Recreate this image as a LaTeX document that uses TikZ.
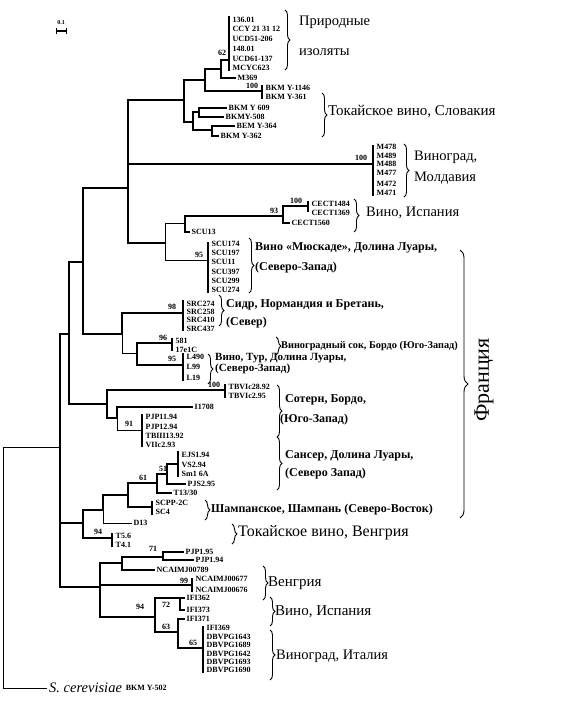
\documentclass[tikz,border=0pt]{standalone}
\usepackage{fontspec}
\setmainfont{Liberation Serif}
\usetikzlibrary{decorations.pathreplacing}
\newcommand\leafbar[4]{\coordinate (#1t) at (#2,#3);\coordinate (#1b) at (#2,#4);\draw[barline] (#1t) -- (#1b);}
\begin{document}
\begin{tikzpicture}[x=1pt,y=-1pt,
  br/.style={line width=2pt},
  tn/.style={line width=1pt},
  lf/.style={line width=1.2pt},
  barline/.style={line width=1.8pt},
  lab/.style={anchor=west,inner xsep=1.5pt,inner ysep=0pt,font=\fontsize{8}{9}\selectfont\bfseries},
  bs/.style={inner sep=0pt,font=\fontsize{8}{9}\selectfont\bfseries},
  grp/.style={anchor=west,inner sep=0pt,font=\fontsize{14.5}{16}\selectfont},
  grpb/.style={anchor=west,inner sep=0pt,font=\fontsize{12}{14}\selectfont\bfseries},
  grps/.style={anchor=west,inner sep=0pt,font=\fontsize{11}{13}\selectfont\bfseries},
  brc/.style={decorate,decoration={brace,amplitude=5pt},line width=0.9pt}]
\useasboundingbox (0,0) rectangle (573,707);

% scale bar
\coordinate (sbl) at (56,31); \coordinate (sbr) at (66,31);
\draw[line width=1.6pt] (sbl) -- (sbr);
\draw[line width=1pt] (56,28) -- (56,34) (66,28) -- (66,34);
\node[bs,font=\fontsize{6}{7}\selectfont\bfseries] (sbt) at (61,23) {0.1};

% root
\coordinate (rt) at (3,447);
\coordinate (N1) at (60,447);
\node[anchor=west,inner xsep=2pt,inner ysep=0pt,font=\fontsize{14.5}{16}\selectfont\itshape] (sc) at (47,688) {S. cerevisiae};
\node[lab] (scb) at (sc.east) {BKM Y-502};
\draw[tn] (rt) -- (N1);
\draw[tn] (rt) |- (sc.west);

% level 1
\coordinate (N2) at (69,334);
\coordinate (T) at (83,523);
\coordinate (G) at (100,587);
\draw[br] (N1) |- (N2); \draw[br] (N1) |- (T); \draw[br] (N1) |- (G);

\coordinate (M) at (83,262); \coordinate (S) at (107,404);
\draw[br] (N2) |- (M); \draw[br] (N2) |- (S);

\coordinate (X) at (128,188); \coordinate (K) at (122,334);
\draw[br] (M) |- (X); \draw[br] (M) |- (K);

% X clade
\coordinate (Tn) at (184,100);
\coordinate (Mol) at (373,164);
\coordinate (C) at (165,243);
\draw[br] (X) |- (Tn); \draw[br] (X) |- (Mol); \draw[br] (X) |- (C);
\leafbar{molbar}{373}{145}{196}

\coordinate (n205) at (205,80); \coordinate (n193) at (193,122);
\draw[br] (Tn) |- (n205); \draw[br] (Tn) |- (n193);
\coordinate (n221) at (221,69); \coordinate (Bb) at (262,91);
\draw[br] (n205) |- (n221); \draw[lf] (n205) |- (Bb);
\leafbar{bbar}{262}{85}{99}
\coordinate (Ab) at (229,60);
\draw[br] (n221) |- (Ab);
\leafbar{abar}{229}{16}{71}
\node[lab] (m369) at (236,78) {M369}; \draw[lf] (n221) |- (m369.west);

\coordinate (n199) at (199,112); \coordinate (n212) at (212,130);
\draw[br] (n193) |- (n199); \draw[br] (n193) |- (n212);
\node[lab] (l609) at (227,108) {BKM Y 609}; \draw[br] (n199) |- (l609.west);
\node[lab] (l508) at (224,117) {BKMY-508}; \draw[br] (n199) |- (l508.west);
\node[lab] (l364) at (235,126) {BEM Y-364}; \draw[br] (n212) |- (l364.west);
\node[lab] (l362) at (219,136) {BKM Y-362}; \draw[br] (n212) |- (l362.west);

\coordinate (c185) at (185,223); \coordinate (SCUb) at (208,260);
\draw[tn] (C) |- (c185); \draw[tn] (C) |- (SCUb);
\leafbar{scubar}{208}{242}{293}
\coordinate (c283) at (283,216);
\draw[br] (c185) |- (c283);
\node[lab] (scu13) at (190,232) {SCU13}; \draw[lf] (c185) |- (scu13.west);
\coordinate (CEb) at (308,206);
\draw[br] (c283) |- (CEb);
\leafbar{cebar}{308}{201}{212}
\node[lab] (ce1560) at (290,223) {CECT1560}; \draw[br] (c283) |- (ce1560.west);

% K clade
\coordinate (SRCb) at (183,313); \coordinate (k137) at (137,353);
\draw[br] (K) |- (SRCb); \draw[tn] (K) |- (k137);
\leafbar{srcbar}{183}{300}{331}
\coordinate (b581) at (172,343); \coordinate (Lb) at (183,365);
\draw[br] (k137) |- (b581); \draw[br] (k137) |- (Lb);
\leafbar{fbar}{172}{338}{351}
\leafbar{lbar}{183}{353}{381}

% S clade
\coordinate (TBVb) at (225,390); \coordinate (s117) at (117,418);
\draw[br] (S) |- (TBVb); \draw[br] (S) |- (s117);
\leafbar{tbvbar}{225}{384}{398}
\node[lab] (li708) at (193,407) {I1708}; \draw[br] (s117) |- (li708.west);
\coordinate (PJb) at (142,430); \draw[tn] (s117) |- (PJb);
\leafbar{pjbar}{142}{414}{447}

% T clade
\coordinate (U) at (103,510); \coordinate (Tb) at (112,538);
\draw[br] (T) |- (U); \draw[br] (T) |- (Tb);
\leafbar{tbar}{112}{533}{547}
\coordinate (V) at (128,495); \draw[br] (U) |- (V);
\node[lab] (d13) at (132,523) {D13}; \draw[tn] (U) |- (d13.west);
\coordinate (W) at (157,483); \coordinate (SCb) at (152,507);
\draw[br] (V) |- (W); \draw[br] (V) |- (SCb);
\leafbar{scbar}{152}{501}{515}
\coordinate (X2) at (167,474); \draw[br] (W) |- (X2);
\node[lab] (t1330) at (172,493) {T13/30}; \draw[br] (W) |- (t1330.west);
\coordinate (EJb) at (178,464); \draw[br] (X2) |- (EJb);
\leafbar{ejbar}{178}{451}{477}
\node[lab] (pjs) at (186,484) {PJS2.95}; \draw[br] (X2) |- (pjs.west);

% G clade
\coordinate (g122) at (122,563); \coordinate (NCb) at (192,585); \coordinate (P) at (155,617);
\draw[br] (G) |- (g122); \draw[br] (G) |- (NCb); \draw[br] (G) |- (P);
\leafbar{ncbar}{192}{578}{592}
\coordinate (g163) at (163,557); \draw[br] (g122) |- (g163);
\node[lab] (nc789) at (155,570) {NCAIMJ00789}; \draw[br] (g122) |- (nc789.west);
\node[lab] (pj195) at (184,552) {PJP1.95}; \node[lab] (pj194) at (194,560) {PJP1.94};
\draw[br] (g163) |- (pj195.west); \draw[br] (g163) |- (pj194.west);
\coordinate (Q) at (180,598); \coordinate (R) at (178,632);
\draw[br] (P) |- (Q); \draw[br] (P) |- (R);
\node[lab] (ifi362) at (185,598) {IFI362}; \draw[br] (Q) -- (ifi362.west);
\node[lab] (ifi373) at (185,610) {IFI373}; \draw[br] (Q) |- (ifi373.west);
\node[lab] (ifi371) at (185,619) {IFI371}; \draw[br] (R) |- (ifi371.west);
\coordinate (DBb) at (203,648); \draw[br] (R) |- (DBb);
\leafbar{dbbar}{203}{626}{673}

% bar labels
\foreach \yy/\tt [count=\i] in {20/136.01,29/CCY 21 31 12,39/UCD51-206,49/148.01,59/UCD61-137,68/MCYC623}
  \node[lab] (a\i) at (231,\yy) {\tt};
\foreach \yy/\tt [count=\i] in {88/BKM Y-1146,97/BKM Y-361}
  \node[lab] (b\i) at (264,\yy) {\tt};
\foreach \yy/\tt [count=\i] in {147/M478,156/M489,164/M488,173/M477,184/M472,193/M471}
  \node[lab] (mo\i) at (375,\yy) {\tt};
\foreach \yy/\tt [count=\i] in {204/CECT1484,213/CECT1369}
  \node[lab] (ce\i) at (310,\yy) {\tt};
\foreach \yy/\tt [count=\i] in {244/SCU174,253/SCU197,262/SCU11,272/SCU397,281/SCU299,290/SCU274}
  \node[lab] (scu\i) at (210,\yy) {\tt};
\foreach \yy/\tt [count=\i] in {304/SRC274,312/SRC258,320/SRC410,329/SRC437}
  \node[lab] (src\i) at (185,\yy) {\tt};
\foreach \yy/\tt [count=\i] in {341/581,350/17e1C}
  \node[lab] (f\i) at (174,\yy) {\tt};
\foreach \yy/\tt [count=\i] in {357/L490,367/L99,378/L19}
  \node[lab] (l\i) at (185,\yy) {\tt};
\foreach \yy/\tt [count=\i] in {387/TBVIc28.92,396/TBVIc2.95}
  \node[lab] (tbv\i) at (227,\yy) {\tt};
\foreach \yy/\tt [count=\i] in {417/PJP11.94,427/PJP12.94,436/TBIII13.92,445/VIIc2.93}
  \node[lab] (pj\i) at (144,\yy) {\tt};
\foreach \yy/\tt [count=\i] in {455/EJS1.94,465/VS2.94,474/Sm1 6A}
  \node[lab] (ej\i) at (180,\yy) {\tt};
\foreach \yy/\tt [count=\i] in {503/SCPP-2C,512/SC4}
  \node[lab] (scp\i) at (154,\yy) {\tt};
\foreach \yy/\tt [count=\i] in {536/T5.6,545/T4.1}
  \node[lab] (tt\i) at (114,\yy) {\tt};
\foreach \yy/\tt [count=\i] in {579/NCAIMJ00677,590/NCAIMJ00676}
  \node[lab] (nc\i) at (194,\yy) {\tt};
\foreach \yy/\tt [count=\i] in {628/IFI369,637/DBVPG1643,645/DBVPG1689,654/DBVPG1642,662/DBVPG1693,670/DBVPG1690}
  \node[lab] (db\i) at (205,\yy) {\tt};

% support values
\node[bs] (s62) at (222,53) {62};
\node[bs] (s100a) at (252,86) {100};
\node[bs] (s100b) at (361,158) {100};
\node[bs] (s93) at (274,211) {93};
\node[bs] (s100c) at (296,201) {100};
\node[bs] (s95a) at (199,255) {95};
\node[bs] (s98) at (172,307) {98};
\node[bs] (s96) at (163,338) {96};
\node[bs] (s95b) at (172,359) {95};
\node[bs] (s100d) at (214,385) {100};
\node[bs] (s91) at (129,424) {91};
\node[bs] (s51) at (163,469) {51};
\node[bs] (s61) at (143,478) {61};
\node[bs] (s94a) at (98,532) {94};
\node[bs] (s71) at (153,549) {71};
\node[bs] (s99) at (184,581) {99};
\node[bs] (s94b) at (140,607) {94};
\node[bs] (s72) at (166,605) {72};
\node[bs] (s63) at (166,627) {63};
\node[bs] (s65) at (193,643) {65};

% braces
\draw[brc] (285,10) -- (285,70);
\draw[brc] (322,93) -- (322,137);
\draw[brc] (404,144) -- (404,197);
\draw[brc] (354,199) -- (354,232);
\draw[brc] (249,238) -- (249,293);
\draw[brc] (219,295) -- (219,326);
\draw[brc] (276,337) -- (276,355);
\draw[brc] (208,354) -- (208,384);
\draw[brc] (277,385) -- (277,437);
\draw[brc] (277,437) -- (277,490);
\draw[brc] (205,500) -- (205,520);
\draw[brc,decoration={brace,amplitude=8pt}] (460,250) -- (460,518);
\draw[brc] (232,524) -- (232,544);
\draw[brc] (263,566) -- (263,600);
\draw[brc] (270,597) -- (270,626);
\draw[brc] (270,630) -- (270,680);

% group labels
\node[grp] (g1a) at (299,22) {Природные};
\node[grp] (g1b) at (299,52) {изоляты};
\node[grp,font=\fontsize{15}{17}\selectfont] (g2) at (328,112) {Токайское вино, Словакия};
\node[grp] (g3a) at (414,157) {Виноград,};
\node[grp] (g3b) at (414,178) {Молдавия};
\node[grp] (g4) at (366,213) {Вино, Испания};
\node[grpb] (g5a) at (255,248) {Вино «Мюскаде», Долина Луары,};
\node[grpb] (g5b) at (255,268) {(Северо-Запад)};
\node[grpb] (g6a) at (226,305) {Сидр, Нормандия и Бретань,};
\node[grpb] (g6b) at (226,323) {(Север)};
\node[grps,font=\fontsize{10.3}{12}\selectfont\bfseries] (g7) at (281,346) {Виноградный сок, Бордо (Юго-Запад)};
\node[grps] (g8a) at (215,358) {Вино, Тур, Долина Луары,};
\node[grps] (g8b) at (215,369) {(Северо-Запад)};
\node[grpb] (g9a) at (285,400) {Сотерн, Бордо,};
\node[grpb] (g9b) at (280,420) {(Юго-Запад)};
\node[grpb] (g10a) at (285,456) {Сансер, Долина Луары,};
\node[grpb] (g10b) at (285,474) {(Северо Запад)};
\node[grpb] (g11) at (211,510) {Шампанское, Шампань (Северо-Восток)};
\node[rotate=90,inner sep=0pt,font=\fontsize{22}{24}\selectfont] (fr) at (484,380) {Франция};
\node[grp,font=\fontsize{16}{18}\selectfont] (g13) at (238,533) {Токайское вино, Венгрия};
\node[grp,font=\fontsize{15}{17}\selectfont] (g14) at (268,583) {Венгрия};
\node[grp,font=\fontsize{15}{17}\selectfont] (g15) at (275,612) {Вино, Испания};
\node[grp] (g16) at (276,656) {Виноград, Италия};
\end{tikzpicture}
\end{document}
